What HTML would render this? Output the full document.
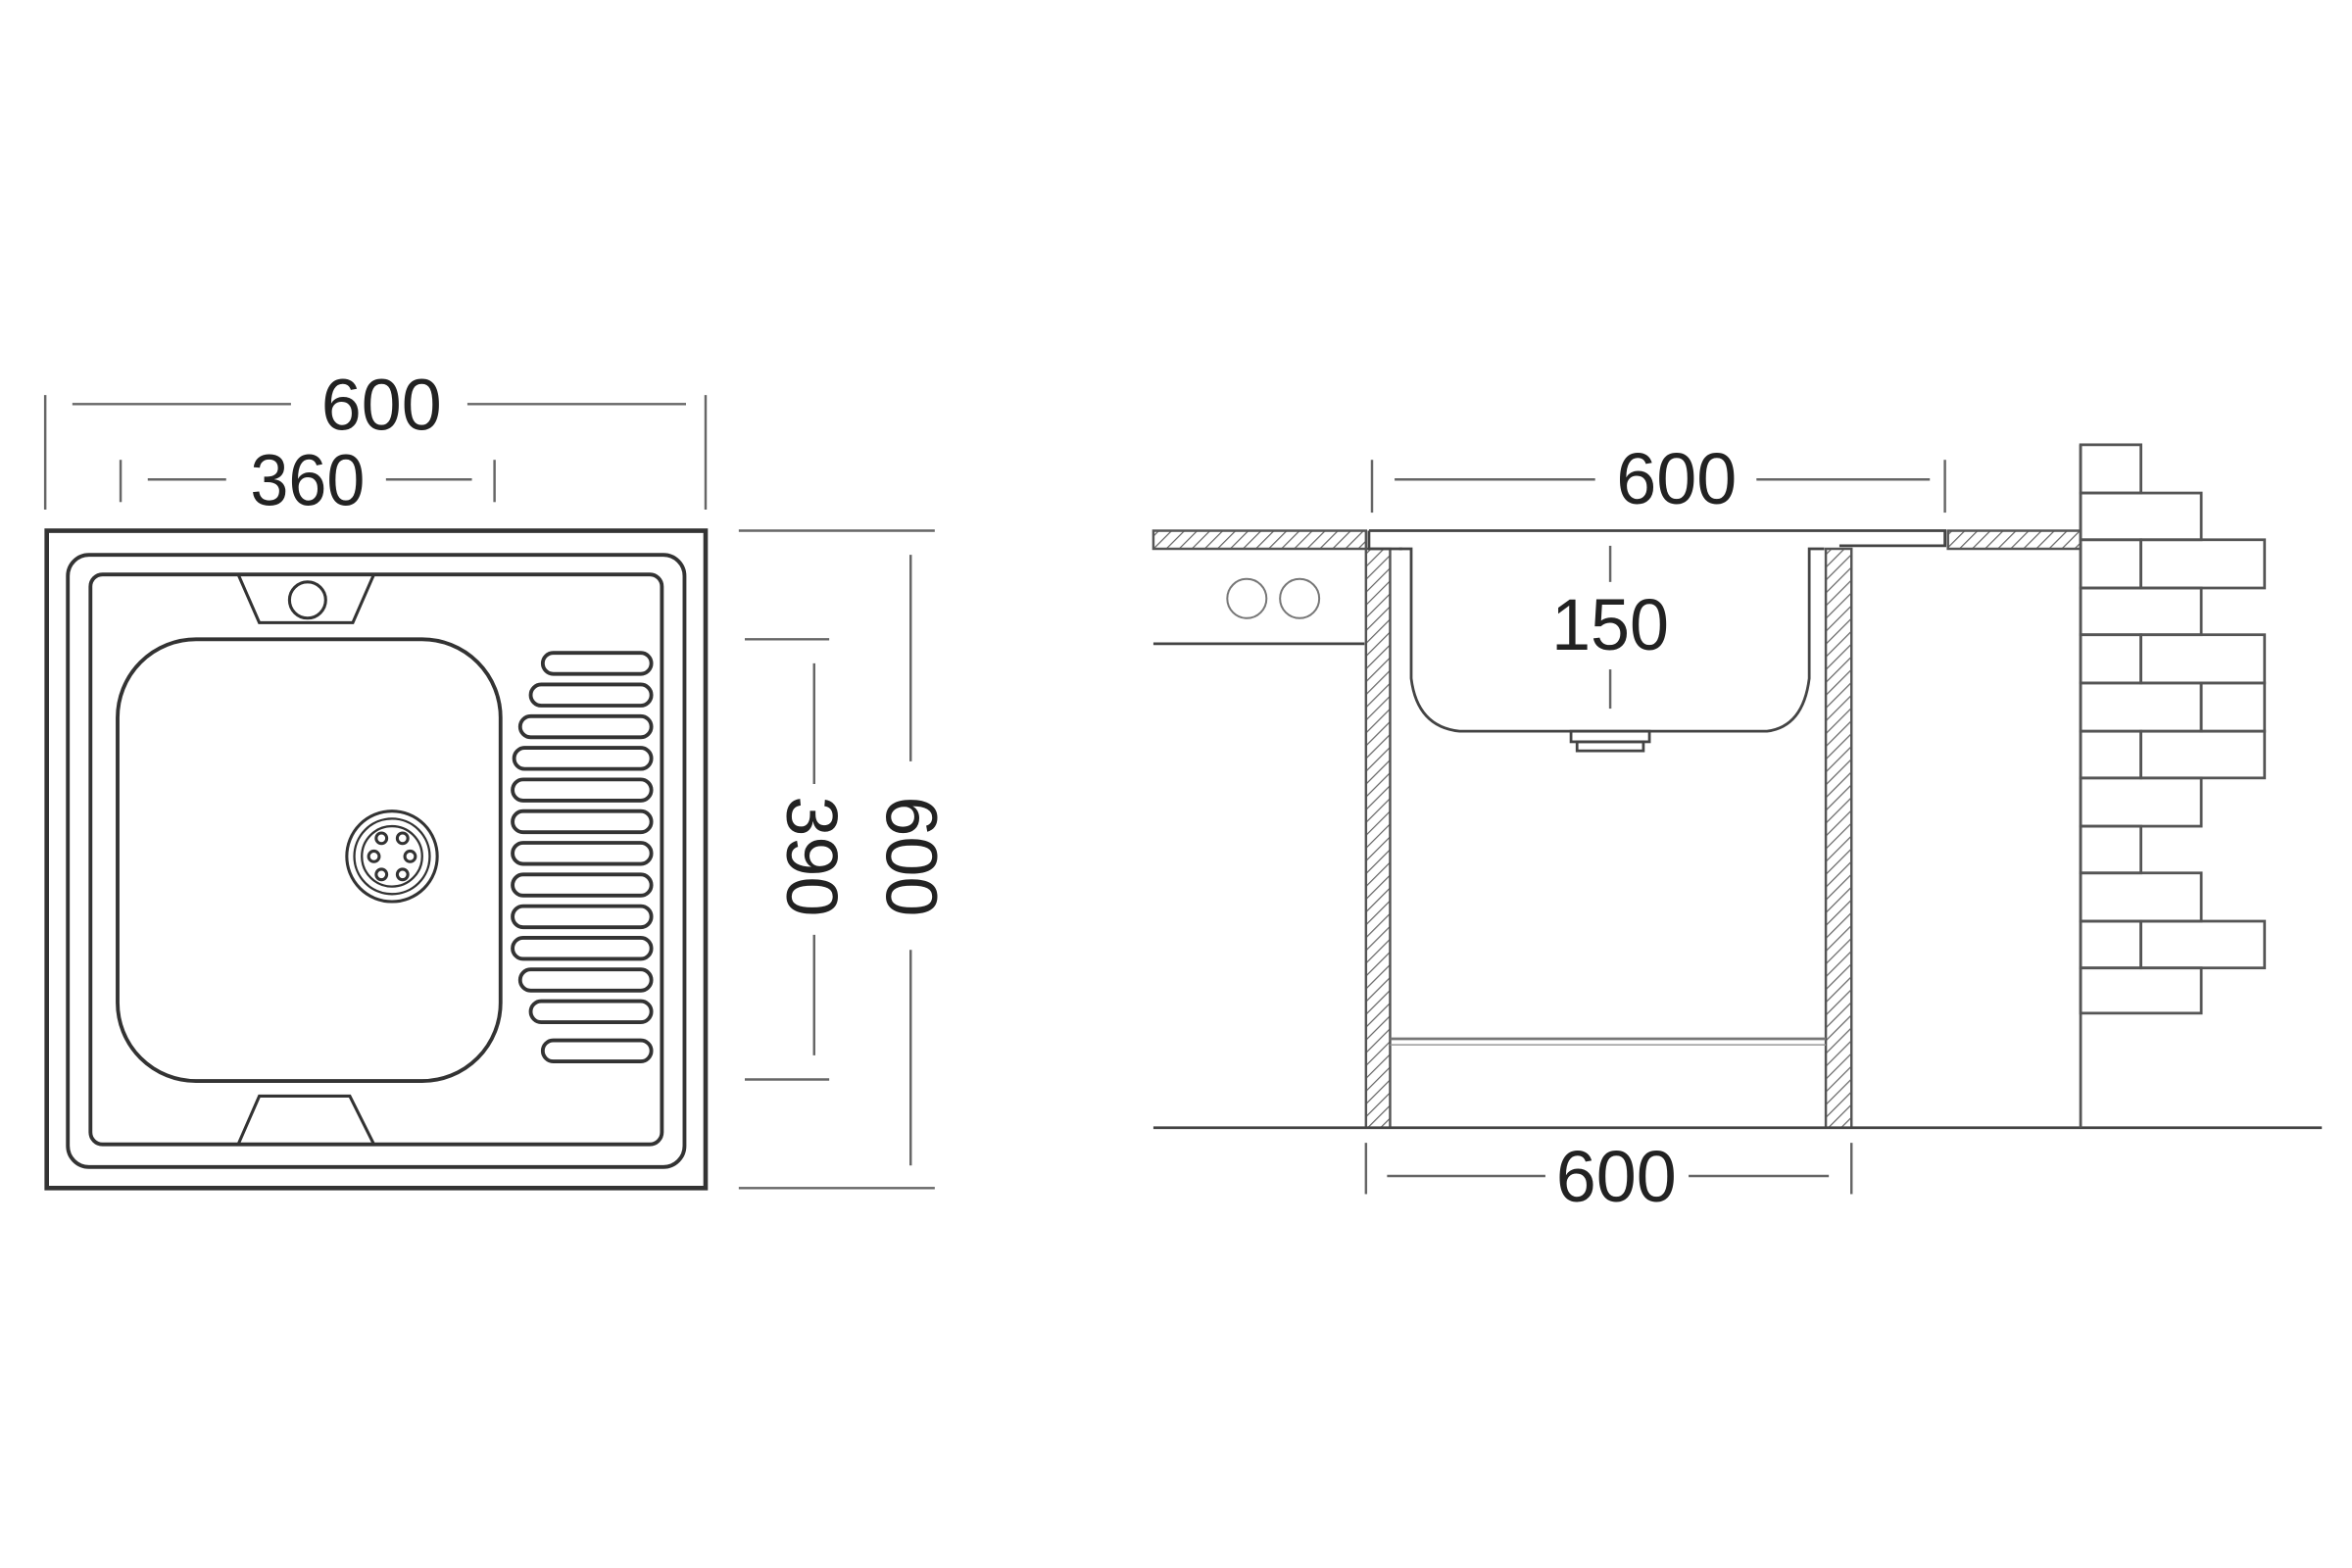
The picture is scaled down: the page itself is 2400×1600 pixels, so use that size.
<!DOCTYPE html>
<html><head><meta charset="utf-8"><style>html,body{margin:0;padding:0;background:#fff}svg{display:block}</style></head>
<body>
<svg width="2400" height="1600" viewBox="0 0 1560 1040" xmlns="http://www.w3.org/2000/svg">
<defs>
<pattern id="h" width="6" height="6" patternUnits="userSpaceOnUse" patternTransform="rotate(45)">
<line x1="0" y1="0" x2="0" y2="6" stroke="#666" stroke-width="1.6"/>
</pattern>
</defs>
<g font-family="Liberation Sans, sans-serif" font-size="48" fill="#222" text-anchor="middle">
<!-- Left plan dims -->
<g stroke="#666" stroke-width="1.6" fill="none">
<line x1="30" y1="262" x2="30" y2="338"/><line x1="468" y1="262" x2="468" y2="338"/>
<line x1="48" y1="268" x2="193" y2="268"/><line x1="310" y1="268" x2="455" y2="268"/>
<line x1="80" y1="305" x2="80" y2="333"/><line x1="328" y1="305" x2="328" y2="333"/>
<line x1="98" y1="318" x2="150" y2="318"/><line x1="256" y1="318" x2="313" y2="318"/>
<line x1="494" y1="424" x2="550" y2="424"/><line x1="494" y1="716" x2="550" y2="716"/>
<line x1="540" y1="440" x2="540" y2="520"/><line x1="540" y1="620" x2="540" y2="700"/>
<line x1="490" y1="352" x2="620" y2="352"/><line x1="490" y1="788" x2="620" y2="788"/>
<line x1="604" y1="368" x2="604" y2="505"/><line x1="604" y1="630" x2="604" y2="773"/>
</g>
<text x="253" y="285" textLength="80" lengthAdjust="spacingAndGlyphs">600</text>
<text x="204" y="335" textLength="76" lengthAdjust="spacingAndGlyphs">360</text>
<text transform="translate(522,568) rotate(90)" textLength="80" lengthAdjust="spacingAndGlyphs">390</text>
<text transform="translate(588,568) rotate(90)" textLength="80" lengthAdjust="spacingAndGlyphs">600</text>

<!-- Sink plan -->
<g stroke="#333" fill="none">
<rect x="31" y="352" width="437" height="436" stroke-width="3"/>
<rect x="45" y="368" width="409" height="406" rx="14" stroke-width="2.5"/>
<rect x="60" y="381" width="379" height="378" rx="8" stroke-width="2.5"/>
<polygon points="158,381 248,381 234,413 172,413" stroke-width="2"/>
<circle cx="204" cy="398" r="12" stroke-width="2"/>
<polygon points="172,727 232,727 248,759 158,759" stroke-width="2"/>
<rect x="78" y="424" width="254" height="293" rx="52" stroke-width="2.5"/>
<circle cx="260" cy="568" r="30" stroke-width="2"/>
<circle cx="260" cy="568" r="25" stroke-width="1.5"/>
<circle cx="260" cy="568" r="20" stroke-width="1.5"/>
</g>
<g fill="none" stroke="#333" stroke-width="2">
<circle cx="253" cy="556" r="3.5"/><circle cx="267" cy="556" r="3.5"/>
<circle cx="248" cy="568" r="3.5"/><circle cx="272" cy="568" r="3.5"/>
<circle cx="253" cy="580" r="3.5"/><circle cx="267" cy="580" r="3.5"/>
</g>
<g fill="none" stroke="#333" stroke-width="2.5">
<rect x="360" y="433" width="72" height="14" rx="7"/>
<rect x="352" y="454" width="80" height="14" rx="7"/>
<rect x="345" y="475" width="87" height="14" rx="7"/>
<rect x="341" y="496" width="91" height="14" rx="7"/>
<rect x="340" y="517" width="92" height="14" rx="7"/>
<rect x="340" y="538" width="92" height="14" rx="7"/>
<rect x="340" y="559" width="92" height="14" rx="7"/>
<rect x="340" y="580" width="92" height="14" rx="7"/>
<rect x="340" y="601" width="92" height="14" rx="7"/>
<rect x="340" y="622" width="92" height="14" rx="7"/>
<rect x="345" y="643" width="87" height="14" rx="7"/>
<rect x="352" y="664" width="80" height="14" rx="7"/>
<rect x="360" y="690" width="72" height="14" rx="7"/>
</g>

<!-- Elevation dims -->
<g stroke="#666" stroke-width="1.6" fill="none">
<line x1="910" y1="305" x2="910" y2="340"/><line x1="1290" y1="305" x2="1290" y2="340"/>
<line x1="925" y1="318" x2="1058" y2="318"/><line x1="1165" y1="318" x2="1280" y2="318"/>
<line x1="1068" y1="362" x2="1068" y2="386"/><line x1="1068" y1="444" x2="1068" y2="470"/>
<line x1="906" y1="758" x2="906" y2="792"/><line x1="1228" y1="758" x2="1228" y2="792"/>
<line x1="920" y1="780" x2="1025" y2="780"/><line x1="1120" y1="780" x2="1213" y2="780"/>
</g>
<text x="1112" y="334" textLength="80" lengthAdjust="spacingAndGlyphs">600</text>
<text x="1068" y="431" textLength="78" lengthAdjust="spacingAndGlyphs">150</text>
<text x="1072" y="797" textLength="80" lengthAdjust="spacingAndGlyphs">600</text>

<!-- Elevation -->
<g stroke="#555" stroke-width="1.6">
<rect x="765" y="352" width="141" height="12" fill="url(#h)"/>
<rect x="1292" y="352" width="88" height="12" fill="url(#h)"/>
<rect x="906" y="364" width="16" height="384" fill="url(#h)"/>
<rect x="1211" y="364" width="17" height="384" fill="url(#h)"/>
</g>
<g fill="none" stroke="#444" stroke-width="1.8">
<path d="M908,352 H1290 V362 H1220 M908,352 V364 H930"/>
<path d="M928,364 H936 V450 Q940,482 968,485 H1172 Q1196,482 1200,450 V364 H1210"/>
<rect x="1042" y="485" width="52" height="7"/>
<rect x="1046" y="492" width="44" height="6"/>
<line x1="765" y1="748" x2="1540" y2="748"/>
<line x1="765" y1="427" x2="905" y2="427"/>
<line x1="922" y1="689" x2="1211" y2="689" stroke="#777"/>
<line x1="922" y1="693" x2="1211" y2="693" stroke="#999" stroke-width="1"/>
</g>
<circle cx="827" cy="397" r="13" fill="none" stroke="#777" stroke-width="1.3"/>
<circle cx="862" cy="397" r="13" fill="none" stroke="#777" stroke-width="1.3"/>
<g fill="none" stroke="#555" stroke-width="1.8">
<line x1="1380" y1="295" x2="1380" y2="748"/>
<rect x="1380" y="295" width="40" height="32"/>
<rect x="1380" y="327" width="80" height="31"/>
<rect x="1380" y="358" width="40" height="32"/><rect x="1420" y="358" width="82" height="32"/>
<rect x="1380" y="390" width="80" height="31"/>
<rect x="1380" y="421" width="40" height="32"/><rect x="1420" y="421" width="82" height="32"/>
<rect x="1380" y="453" width="80" height="32"/><rect x="1460" y="453" width="42" height="32"/>
<rect x="1380" y="485" width="40" height="31"/><rect x="1420" y="485" width="82" height="31"/>
<rect x="1380" y="516" width="80" height="32"/>
<rect x="1380" y="548" width="40" height="31"/>
<rect x="1380" y="579" width="80" height="32"/>
<rect x="1380" y="611" width="40" height="31"/><rect x="1420" y="611" width="82" height="31"/>
<rect x="1380" y="642" width="80" height="30"/>
</g>
</g>
</svg>
</body></html>
